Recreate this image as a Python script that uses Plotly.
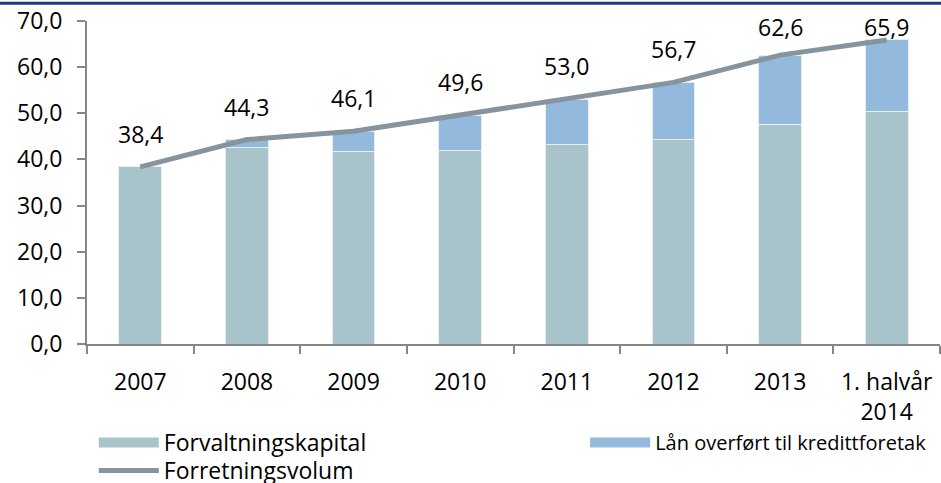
import plotly.graph_objects as go

categories = ["2007", "2008", "2009", "2010", "2011", "2012", "2013", "1. halvår<br>2014"]
forvaltningskapital = [38.4, 42.6, 41.7, 41.9, 43.2, 44.3, 47.5, 50.3]
laan_kredittforetak = [0.0, 1.7, 4.4, 7.7, 9.8, 12.4, 15.1, 15.6]
forretningsvolum = [38.4, 44.3, 46.1, 49.6, 53.0, 56.7, 62.6, 65.9]
y_ticks = [0, 10, 20, 30, 40, 50, 60, 70]

FONT = "Open Sans, Roboto, sans-serif"
C_FORV = "#A9C3CA"
C_LAAN = "#93B9DC"
C_LINE = "#87949E"

W, H = 941, 483
M_L, M_R, M_T, M_B = 87, 1, 21, 139
Y_MAX = 70
plot_h = H - M_T - M_B

fig = go.Figure()
fig.add_trace(go.Bar(
    x=categories, y=forvaltningskapital, name="Forvaltningskapital",
    marker=dict(color=C_FORV, line=dict(color="#E6EEF2", width=1)),
    width=0.4, showlegend=False,
))
fig.add_trace(go.Bar(
    x=categories, y=laan_kredittforetak, name="Lån overført til kredittforetak",
    marker=dict(color=C_LAAN, line=dict(color="#E6EEF2", width=1)),
    width=0.4, showlegend=False,
))
fig.add_trace(go.Scatter(
    x=categories, y=forretningsvolum, name="Forretningsvolum",
    mode="lines", line=dict(color=C_LINE, width=5), showlegend=False,
))

# legend entries (wide swatches like the original)
fig.add_trace(go.Scatter(x=[None], y=[None], mode="lines", name="Forvaltningskapital",
                         line=dict(color=C_FORV, width=18), legend="legend"))
fig.add_trace(go.Scatter(x=[None], y=[None], mode="lines", name="Lån overført til kredittforetak",
                         line=dict(color=C_LAAN, width=18), legend="legend2"))
fig.add_trace(go.Scatter(x=[None], y=[None], mode="lines", name="Forretningsvolum",
                         line=dict(color=C_LINE, width=5), legend="legend3"))

# value labels above the line, kept inside the top of the chart like the original
for i, v in enumerate(forretningsvolum):
    point_px = M_T + (Y_MAX - v) * plot_h / Y_MAX
    label_px = max(point_px - 33, 27)
    fig.add_annotation(
        x=i, y=v, text=f"{v:.1f}".replace(".", ","), showarrow=False,
        yshift=point_px - label_px, yanchor="middle",
        font=dict(family=FONT, size=23, color="#000000"),
    )

fig.add_shape(type="line", xref="paper", yref="paper",
              x0=-0.2, x1=1.01, y0=1 + 17.7 / plot_h, y1=1 + 17.7 / plot_h,
              line=dict(color="#1B3A80", width=3))

legend_common = dict(
    orientation="v", xanchor="left", yref="container", yanchor="top",
    traceorder="normal", itemwidth=60, tracegroupgap=0, bgcolor="rgba(0,0,0,0)",
)

fig.update_layout(
    width=W, height=H,
    margin=dict(l=M_L, r=M_R, t=M_T, b=M_B, autoexpand=False),
    barmode="stack",
    plot_bgcolor="white", paper_bgcolor="white",
    separators=", ",
    font=dict(family=FONT, size=23, color="#000000"),
    showlegend=True,
    legend=dict(x=0.008, y=0.1284, font=dict(family=FONT, size=23), **legend_common),
    legend2=dict(x=0.584, y=0.124, font=dict(family=FONT, size=20), **legend_common),
    legend3=dict(x=0.008, y=0.0704, font=dict(family=FONT, size=23), **legend_common),
    xaxis=dict(
        type="category", range=[-0.5, 7.5],
        showline=True, linecolor="#868686", linewidth=2,
        ticks="outside", tickson="boundaries", ticklen=8, tickcolor="#868686", tickwidth=2,
        showgrid=False, tickfont=dict(family=FONT, size=23), ticklabelstandoff=16,
    ),
    yaxis=dict(
        range=[0, Y_MAX], tickvals=y_ticks, tickformat=".1f",
        showline=True, linecolor="#868686", linewidth=2,
        ticks="outside", ticklen=8, tickcolor="#868686", tickwidth=2,
        showgrid=False, zeroline=False, tickfont=dict(family=FONT, size=23),
        ticklabelstandoff=10,
    ),
)

fig.write_html("out.html", config={"displayModeBar": False},
               post_script="document.body.style.margin='0';document.body.style.overflow='hidden';")
